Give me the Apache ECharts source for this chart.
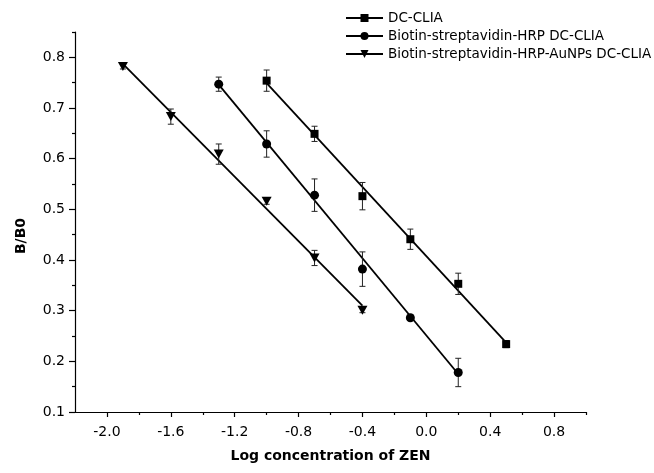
<!DOCTYPE html>
<html>
<head>
<meta charset="utf-8">
<script src="https://cdn.jsdelivr.net/npm/echarts@6/dist/echarts.min.js"></script>
<style>
html,body{margin:0;padding:0;background:#fff;}
#chart{width:654px;height:473px;}
</style>
</head>
<body>
<div id="chart"></div>
<script>
// ---- data ----
const seriesNames = ['DC-CLIA', 'Biotin-streptavidin-HRP DC-CLIA', 'Biotin-streptavidin-HRP-AuNPs DC-CLIA'];

const xSquare = [-1.0, -0.7, -0.4, -0.1, 0.2, 0.5];
const ySquare = [0.754, 0.649, 0.526, 0.441, 0.353, 0.234];
const eSquare = [0.021, 0.015, 0.027, 0.020, 0.021, 0.007];

const xCircle = [-1.3, -1.0, -0.7, -0.4, -0.1, 0.2];
const yCircle = [0.747, 0.629, 0.528, 0.382, 0.286, 0.178];
const eCircle = [0.014, 0.026, 0.032, 0.034, 0.005, 0.028];

const xTri = [-1.9, -1.6, -1.3, -1.0, -0.7, -0.4];
const yTri = [0.782, 0.683, 0.609, 0.516, 0.404, 0.301];
const eTri = [0.005, 0.015, 0.020, 0.006, 0.015, 0.005];

// fitted lines (end points)
const fitSquareX = [-1.0, 0.5];
const fitSquareY = [0.749, 0.237];
const fitCircleX = [-1.3, 0.2];
const fitCircleY = [0.746, 0.175];
const fitTriX = [-1.9, -0.4];
const fitTriY = [0.787, 0.310];

// axis ticks
const xMajorTicks = [-2.0, -1.6, -1.2, -0.8, -0.4, 0.0, 0.4, 0.8];
const xMinorTicks = [-1.8, -1.4, -1.0, -0.6, -0.2, 0.2, 0.6, 1.0];
const yMajorTicks = [0.1, 0.2, 0.3, 0.4, 0.5, 0.6, 0.7, 0.8];
const yMinorTicks = [0.15, 0.25, 0.35, 0.45, 0.55, 0.65, 0.75, 0.85];

// ---- build ----
const zip = (xs, ys) => xs.map((x, i) => [x, ys[i]]);
const zip3 = (xs, ys, es) => xs.map((x, i) => [x, ys[i], es[i]]);
const FONT = 'DejaVu Sans, Verdana, sans-serif';
const triPath = 'path://M0,0L10,0L5,9Z';

function errRender(params, api) {
  const x = api.value(0), y = api.value(1), e = api.value(2);
  const top = api.coord([x, y + e]);
  const bot = api.coord([x, y - e]);
  const cw = 3;
  const style = { stroke: '#222', lineWidth: 1 };
  return {
    type: 'group',
    children: [
      { type: 'line', shape: { x1: top[0], y1: top[1], x2: bot[0], y2: bot[1] }, style },
      { type: 'line', shape: { x1: top[0] - cw, y1: top[1], x2: top[0] + cw, y2: top[1] }, style },
      { type: 'line', shape: { x1: bot[0] - cw, y1: bot[1], x2: bot[0] + cw, y2: bot[1] }, style }
    ]
  };
}

const gridBox = { left: 75, right: 68, top: 32, bottom: 61, containLabel: false };
const lineStyle = { color: '#000', width: 1.8 };
const xMin = -2.2, xMax = 1.0, yMin = 0.1, yMax = 0.85;

const option = {
  animation: false,
  backgroundColor: '#fff',
  grid: [Object.assign({}, gridBox), Object.assign({}, gridBox)],
  legend: {
    orient: 'vertical',
    left: 340,
    top: 6,
    itemWidth: 37,
    itemHeight: 10,
    itemGap: 4,
    data: seriesNames,
    textStyle: { fontFamily: FONT, fontSize: 13.5, color: '#000' },
    selectedMode: false
  },
  xAxis: [
    {
      type: 'value', gridIndex: 0, min: xMin, max: xMax, interval: 0.2,
      name: 'Log concentration of ZEN', nameLocation: 'middle', nameGap: 37,
      nameTextStyle: { fontFamily: FONT, fontSize: 14, fontWeight: 'bold', color: '#000' },
      axisLine: { show: true, onZero: false, lineStyle: { color: '#000', width: 1.2 } },
      axisTick: { show: true, length: 5, customValues: xMajorTicks, lineStyle: { color: '#000', width: 1.2 } },
      axisLabel: { customValues: xMajorTicks, margin: 13, fontFamily: FONT, fontSize: 14, color: '#000',
        formatter: v => v.toFixed(1) },
      splitLine: { show: false }
    },
    {
      type: 'value', gridIndex: 1, min: xMin, max: xMax, interval: 0.2,
      axisLine: { show: false, onZero: false },
      axisTick: { show: true, length: 3, customValues: xMinorTicks, lineStyle: { color: '#000', width: 1.2 } },
      axisLabel: { show: false },
      splitLine: { show: false }
    }
  ],
  yAxis: [
    {
      type: 'value', gridIndex: 0, min: yMin, max: yMax, interval: 0.05,
      name: 'B/B0', nameLocation: 'middle', nameGap: 47,
      nameTextStyle: { fontFamily: FONT, fontSize: 14, fontWeight: 'bold', color: '#000', padding: [0, 28, 0, 0] },
      axisLine: { show: true, onZero: false, lineStyle: { color: '#000', width: 1.2 } },
      axisTick: { show: true, length: 6, customValues: yMajorTicks, lineStyle: { color: '#000', width: 1.2 } },
      axisLabel: { customValues: yMajorTicks, margin: 10, fontFamily: FONT, fontSize: 14, color: '#000',
        formatter: v => v.toFixed(1) },
      splitLine: { show: false }
    },
    {
      type: 'value', gridIndex: 1, min: yMin, max: yMax, interval: 0.05,
      axisLine: { show: false, onZero: false },
      axisTick: { show: true, length: 3, customValues: yMinorTicks, lineStyle: { color: '#000', width: 1.2 } },
      axisLabel: { show: false },
      splitLine: { show: false }
    }
  ],
  series: [
    // fit lines first so the legend uses their line + symbol icon
    { name: seriesNames[0], type: 'line', xAxisIndex: 0, yAxisIndex: 0, data: zip(fitSquareX, fitSquareY),
      symbol: 'rect', symbolSize: 8, showSymbol: false, lineStyle, itemStyle: { color: '#000' }, z: 2 },
    { name: seriesNames[1], type: 'line', xAxisIndex: 0, yAxisIndex: 0, data: zip(fitCircleX, fitCircleY),
      symbol: 'circle', symbolSize: 9, showSymbol: false, lineStyle, itemStyle: { color: '#000' }, z: 2 },
    { name: seriesNames[2], type: 'line', xAxisIndex: 0, yAxisIndex: 0, data: zip(fitTriX, fitTriY),
      symbol: triPath, symbolSize: [10, 9], showSymbol: false, lineStyle, itemStyle: { color: '#000' }, z: 2 },

    { type: 'custom', renderItem: errRender, data: zip3(xSquare, ySquare, eSquare), z: 3, silent: true },
    { type: 'custom', renderItem: errRender, data: zip3(xCircle, yCircle, eCircle), z: 3, silent: true },
    { type: 'custom', renderItem: errRender, data: zip3(xTri, yTri, eTri), z: 3, silent: true },

    { name: seriesNames[0], type: 'scatter', data: zip(xSquare, ySquare), symbol: 'rect', symbolSize: 8,
      itemStyle: { color: '#000', opacity: 1 }, z: 4 },
    { name: seriesNames[1], type: 'scatter', data: zip(xCircle, yCircle), symbol: 'circle', symbolSize: 9,
      itemStyle: { color: '#000', opacity: 1 }, z: 4 },
    { name: seriesNames[2], type: 'scatter', data: zip(xTri, yTri), symbol: triPath, symbolSize: [10, 9],
      itemStyle: { color: '#000', opacity: 1 }, z: 4 }
  ]
};

const chart = echarts.init(document.getElementById('chart'), null, { renderer: 'canvas' });
chart.setOption(option);
</script>
</body>
</html>
